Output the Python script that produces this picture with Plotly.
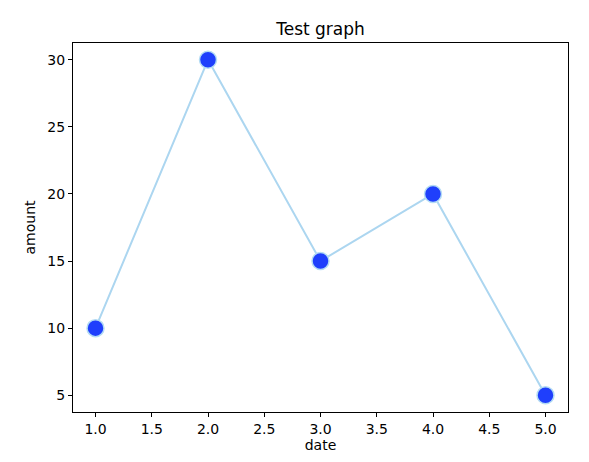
import plotly.graph_objects as go

dates = [1, 2, 3, 4, 5]
amounts = [10, 30, 15, 20, 5]
x_ticks = [1.0, 1.5, 2.0, 2.5, 3.0, 3.5, 4.0, 4.5, 5.0]
y_ticks = [5, 10, 15, 20, 25, 30]

# page body has an 8px default margin; compensate
W, H = 581, 454

fig = go.Figure()
fig.add_trace(go.Scatter(
    x=dates, y=amounts, mode="lines+markers",
    line=dict(color="#acd6f0", width=2),
    marker=dict(size=17, color="#1f3ffc", line=dict(color="#b4dcf4", width=1.5)),
))

axis_common = dict(showgrid=False, zeroline=False, showline=True, linecolor="black",
                   linewidth=1, mirror=True, ticks="outside", ticklen=4, tickcolor="black",
                   tickfont=dict(family="DejaVu Sans", size=14, color="black"))
fig.update_layout(
    width=W, height=H,
    margin=dict(l=65, r=21, t=35, b=50),
    paper_bgcolor="white", plot_bgcolor="white",
    showlegend=False,
    title=dict(text="Test graph", x=(65 + 560) / 2 / W, xanchor="center", y=1 - 21 / H, yanchor="middle",
               font=dict(family="DejaVu Sans", size=17, color="black")),
    xaxis=dict(range=[0.8, 5.2], tickvals=x_ticks, ticktext=[f"{v:.1f}" for v in x_ticks],
               title=dict(text="date", font=dict(family="DejaVu Sans", size=14, color="black"), standoff=4),
               **axis_common),
    yaxis=dict(range=[3.75, 31.25], tickvals=y_ticks, ticktext=[str(v) for v in y_ticks],
               title=dict(text="amount", font=dict(family="DejaVu Sans", size=14, color="black"), standoff=8),
               **axis_common),
)
fig.write_html("out.html")
